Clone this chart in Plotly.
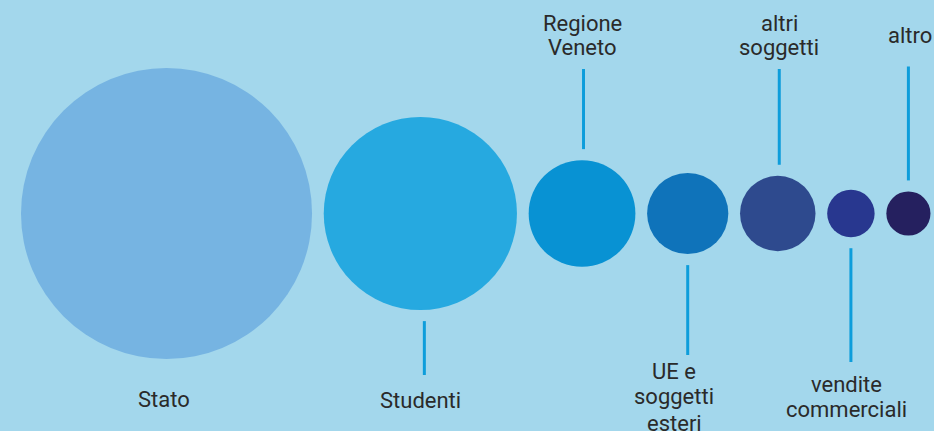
import math
import plotly.graph_objects as go

# ---- data ----
categories = ["Stato", "Studenti", "Regione Veneto", "UE e soggetti esteri",
              "altri soggetti", "vendite commerciali", "altro"]
shares = [56.5, 24.9, 7.6, 4.4, 3.8, 1.5, 1.3]  # percent of total (area-proportional)
label_lines = [["Stato"], ["Studenti"], ["Regione", "Veneto"], ["UE e", "soggetti", "esteri"],
               ["altri", "soggetti"], ["vendite", "commerciali"], ["altro"]]

# ---- styles / layout ----
W, H = 934, 431
BG = "#a3d7ec"
colors = ["#76b4e2", "#26a9e0", "#0892d3", "#0f73ba", "#2e4a8e", "#28378f", "#25205f"]
LINE_COLOR = "#0d9ddb"
TEXT_COLOR = "#2a2a2a"
FONT = "Roboto"
FS = 22
k = 19.36          # px per sqrt(unit)
gap = 11.7         # px between circles
left0 = 21.0
cy = 213.5
# label placement: side, x offset of text, baselines, leader-line x offset, far end of leader
label_side = [None, "below", "above", "below", "above", "below", "above"]
text_dx = [-2.5, 0, 0, -13.5, 1.5, -4, 1.5]
baselines = [[407], [408], [31, 55], [379, 404, 431], [31, 55], [392, 417], [43]]
line_dx = [0, 4, 1.5, 0, 1.5, 0, 0]
line_far = [None, 375, 69, 355, 69, 362, 66.5]
line_gap = 11

radii = [k * math.sqrt(v) for v in shares]
centers = []
x = left0
for r in radii:
    centers.append(x + r)
    x += 2 * r + gap

fig = go.Figure()
fig.add_trace(go.Scatter(
    x=centers, y=[cy] * len(centers), mode="markers",
    marker=dict(size=[2 * r for r in radii], color=colors, line=dict(width=0), opacity=1),
    hoverinfo="skip", showlegend=False,
))

shapes = []
annotations = []
for i, cat in enumerate(categories):
    c, r = centers[i], radii[i]
    if line_far[i] is not None:
        lx = c + line_dx[i]
        if label_side[i] == "above":
            y0, y1 = line_far[i], cy - r - line_gap
        else:
            y0, y1 = cy + r + line_gap, line_far[i]
        shapes.append(dict(type="line", xref="x", yref="y", x0=lx, x1=lx, y0=y0, y1=y1,
                           line=dict(color=LINE_COLOR, width=3)))
    for txt, bl in zip(label_lines[i], baselines[i]):
        annotations.append(dict(
            x=c + text_dx[i], y=bl - 0.34 * FS, xref="x", yref="y", text=txt,
            showarrow=False, xanchor="center", yanchor="middle",
            font=dict(family=FONT, size=FS, color=TEXT_COLOR)))

fig.update_layout(
    width=W, height=H, margin=dict(l=0, r=0, t=0, b=0),
    paper_bgcolor=BG, plot_bgcolor=BG,
    xaxis=dict(range=[0, W], visible=False, fixedrange=True),
    yaxis=dict(range=[H, 0], visible=False, fixedrange=True),
    shapes=shapes, annotations=annotations, showlegend=False,
)

fig.write_html("out.html", config={"displayModeBar": False},
               post_script="document.body.style.margin='0';document.body.style.overflow='hidden';")
